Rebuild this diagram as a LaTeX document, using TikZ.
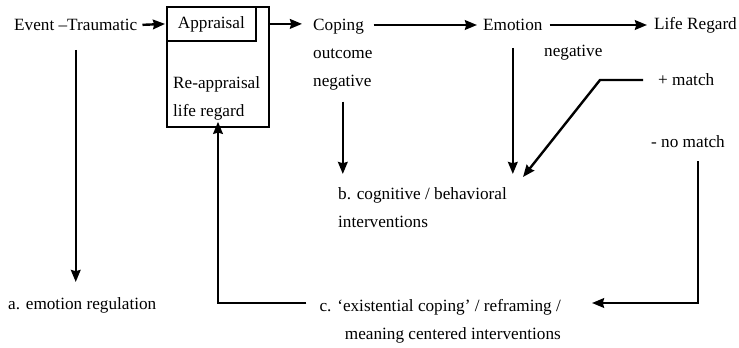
\documentclass[tikz,border=0pt]{standalone}
\usepackage{fontspec}
\setmainfont{Liberation Serif}
\usetikzlibrary{arrows.meta}

\begin{document}
\begin{tikzpicture}[->,>={Stealth[length=6pt, width=4.8pt, inset=0.6pt]}, x=0.5pt, y=-0.5pt, line width=1.2pt]
        \tikzstyle{txt} = [inner sep=0pt, font=\fontsize{8.6pt}{14pt}\selectfont]
        \tikzstyle{frame} = [draw, line width=0.9pt, inner sep=0pt]

        \useasboundingbox (0,0) rectangle (739,348);

        % top row
        \node[txt, anchor=west](event) at (13,25) {Event --Traumatic};
        \node[frame, anchor=north west, minimum width=51pt, minimum height=60pt](box) at (166,6) {};
        \node[frame, txt, anchor=north west, minimum width=44.5pt, minimum height=17pt](appraisal) at (166,6) {Appraisal};
        \node[txt, anchor=north west, align=left](reapp) at (172,75) {Re-appraisal\\life regard};
        \node[txt, anchor=north west, align=left](coping) at (312,18) {Coping\\outcome\\negative};
        \node[txt, anchor=west](emotion) at (482,25) {Emotion};
        \node[txt, anchor=west](life) at (653,25) {Life Regard};
        \node[txt, anchor=west](neg) at (543,53) {negative};
        \node[txt, anchor=west](match) at (657,80) {+ match};
        \node[txt, anchor=west](nomatch) at (650,142) {- no match};

        % interventions
        \node[txt, anchor=north west, align=left](bcog) at (337,186) {b. cognitive / behavioral\\interventions};
        \node[txt, anchor=west](aemo) at (7,305) {a. emotion regulation};
        \node[txt, anchor=north east, align=right](cint) at (562,298) {c. `existential coping' / reframing /\\meaning centered interventions};

        \coordinate (bend) at (600,80);
        \coordinate (turn) at (698,303);
        \coordinate (back) at (218,303);

        \draw[shorten <=2pt, shorten >=0.5pt] (event.east) -- (appraisal.west);
        \draw[shorten >=5pt] (appraisal.east -| box.east) -- (appraisal.east -| coping.west);
        \draw[shorten >=2.5pt] (emotion.west -| coping.east) -- (emotion.west);
        \draw[shorten <=3pt, shorten >=3pt] (emotion.east) -- (life.west);
        \draw[shorten <=9pt, shorten >=7pt] (event.south) -- (event.south |- aemo.north);
        \draw[shorten <=5pt, shorten >=6pt] (coping.south) -- (coping.south |- bcog.north);
        \draw[shorten <=8pt, shorten >=6pt] (emotion.south) -- (emotion.south |- bcog.north);
        \draw[shorten <=7pt] (match.west) -- (bend) -- ([shift={(15,-9)}]bcog.north east);
        \draw[shorten <=6pt, shorten >=15pt] (turn |- nomatch.south) -- (turn) -- (turn -| cint.east);
        \draw[shorten <=6pt, shorten >=-3pt] (back -| cint.west) -- (back) -- (back |- box.south);
    \end{tikzpicture}
\end{document}
